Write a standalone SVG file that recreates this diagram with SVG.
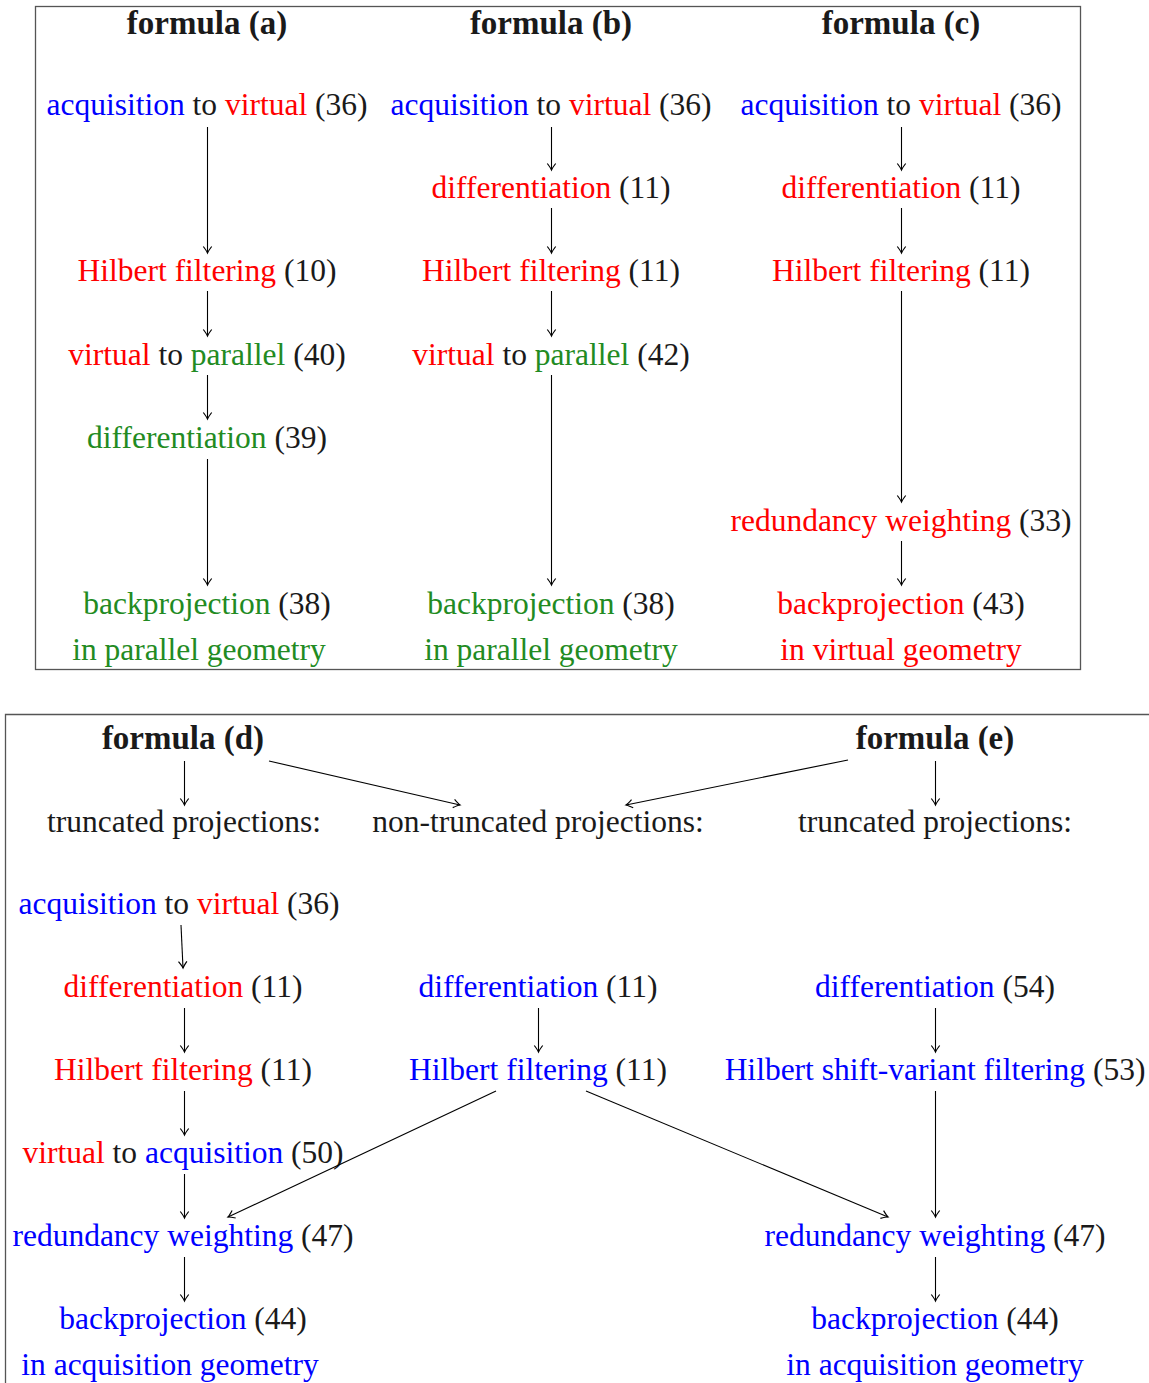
<svg xmlns="http://www.w3.org/2000/svg" width="1149" height="1383" viewBox="0 0 1149 1383">
<style>
text{font-family:"Liberation Serif","Times New Roman",serif;font-size:31.5px;fill:#1a1a1a;text-anchor:middle}
.t{font-weight:bold;font-size:33px}
.b{fill:#0000ff}
.r{fill:#ff0000}
.g{fill:#228b22}
.frame{fill:none;stroke:#555;stroke-width:1.3}
.c line{stroke:#000;stroke-width:1.1;marker-end:url(#ah)}
</style>
<defs>
<marker id="ah" markerUnits="userSpaceOnUse" markerWidth="14" markerHeight="14" viewBox="-7 -7 14 14" refX="0" refY="0" orient="auto">
<path d="M-6.5,-4.2 Q-2,-0.8 0,0 Q-2,0.8 -6.5,4.2" fill="none" stroke="#000" stroke-width="1.2"/>
</marker>
</defs>
<rect class="frame" x="35.5" y="6.5" width="1045" height="663"/>
<path class="frame" d="M5.5,1383 V714.5 H1149"/>

<g id="col-a">
<g id="a-title"><text class="t" x="207" y="34">formula (a)</text></g>
<g id="a1"><text x="207" y="115"><tspan class="b">acquisition</tspan> to <tspan class="r">virtual</tspan> (36)</text></g>
<g id="a2"><text x="207" y="281"><tspan class="r">Hilbert filtering</tspan> (10)</text></g>
<g id="a3"><text x="207" y="365"><tspan class="r">virtual</tspan> to <tspan class="g">parallel</tspan> (40)</text></g>
<g id="a4"><text x="207" y="448"><tspan class="g">differentiation</tspan> (39)</text></g>
<g id="a5"><text x="207" y="614"><tspan class="g">backprojection</tspan> (38)</text><text class="g" x="199" y="660">in parallel geometry</text></g>
</g>
<g id="col-b">
<g id="b-title"><text class="t" x="551" y="34">formula (b)</text></g>
<g id="b1"><text x="551" y="115"><tspan class="b">acquisition</tspan> to <tspan class="r">virtual</tspan> (36)</text></g>
<g id="b2"><text x="551" y="198"><tspan class="r">differentiation</tspan> (11)</text></g>
<g id="b3"><text x="551" y="281"><tspan class="r">Hilbert filtering</tspan> (11)</text></g>
<g id="b4"><text x="551" y="365"><tspan class="r">virtual</tspan> to <tspan class="g">parallel</tspan> (42)</text></g>
<g id="b5"><text x="551" y="614"><tspan class="g">backprojection</tspan> (38)</text><text class="g" x="551" y="660">in parallel geometry</text></g>
</g>
<g id="col-c">
<g id="c-title"><text class="t" x="901" y="34">formula (c)</text></g>
<g id="c1"><text x="901" y="115"><tspan class="b">acquisition</tspan> to <tspan class="r">virtual</tspan> (36)</text></g>
<g id="c2"><text x="901" y="198"><tspan class="r">differentiation</tspan> (11)</text></g>
<g id="c3"><text x="901" y="281"><tspan class="r">Hilbert filtering</tspan> (11)</text></g>
<g id="c4"><text x="901" y="531"><tspan class="r">redundancy weighting</tspan> (33)</text></g>
<g id="c5"><text x="901" y="614"><tspan class="r">backprojection</tspan> (43)</text><text class="r" x="901" y="660">in virtual geometry</text></g>
</g>

<g id="d-title"><text class="t" x="183" y="749">formula (d)</text></g>
<g id="e-title"><text class="t" x="935" y="749">formula (e)</text></g>
<g id="d-trunc"><text x="184" y="832">truncated projections:</text></g>
<g id="nontrunc"><text x="538" y="832">non-truncated projections:</text></g>
<g id="e-trunc"><text x="935" y="832">truncated projections:</text></g>
<g id="d1"><text x="179" y="914"><tspan class="b">acquisition</tspan> to <tspan class="r">virtual</tspan> (36)</text></g>
<g id="d2"><text x="183" y="997"><tspan class="r">differentiation</tspan> (11)</text></g>
<g id="n2"><text x="538" y="997"><tspan class="b">differentiation</tspan> (11)</text></g>
<g id="e2"><text x="935" y="997"><tspan class="b">differentiation</tspan> (54)</text></g>
<g id="d3"><text x="183" y="1080"><tspan class="r">Hilbert filtering</tspan> (11)</text></g>
<g id="n3"><text x="538" y="1080"><tspan class="b">Hilbert filtering</tspan> (11)</text></g>
<g id="e3"><text x="935" y="1080"><tspan class="b">Hilbert shift-variant filtering</tspan> (53)</text></g>
<g id="d4"><text x="183" y="1163"><tspan class="r">virtual</tspan> to <tspan class="b">acquisition</tspan> (50)</text></g>
<g id="d5"><text x="183" y="1246"><tspan class="b">redundancy weighting</tspan> (47)</text></g>
<g id="e5"><text x="935" y="1246"><tspan class="b">redundancy weighting</tspan> (47)</text></g>
<g id="d6"><text x="183" y="1329"><tspan class="b">backprojection</tspan> (44)</text><text class="b" x="170" y="1375">in acquisition geometry</text></g>
<g id="e6"><text x="935" y="1329"><tspan class="b">backprojection</tspan> (44)</text><text class="b" x="935" y="1375">in acquisition geometry</text></g>

<g id="connectors" class="c">
<line x1="207.5" y1="127" x2="207.5" y2="253"/>
<line x1="207.5" y1="291" x2="207.5" y2="336"/>
<line x1="207.5" y1="375" x2="207.5" y2="419"/>
<line x1="207.5" y1="459" x2="207.5" y2="585"/>
<line x1="551.5" y1="127" x2="551.5" y2="170"/>
<line x1="551.5" y1="208" x2="551.5" y2="253"/>
<line x1="551.5" y1="291" x2="551.5" y2="336"/>
<line x1="551.5" y1="375" x2="551.5" y2="585"/>
<line x1="901.5" y1="127" x2="901.5" y2="170"/>
<line x1="901.5" y1="208" x2="901.5" y2="253"/>
<line x1="901.5" y1="291" x2="901.5" y2="502"/>
<line x1="901.5" y1="541" x2="901.5" y2="585"/>
<line x1="184.5" y1="761" x2="184.5" y2="805"/>
<line x1="269" y1="761" x2="460" y2="805"/>
<line x1="848" y1="760" x2="626" y2="805"/>
<line x1="935.5" y1="761" x2="935.5" y2="805"/>
<line x1="181" y1="925" x2="183" y2="968"/>
<line x1="184.5" y1="1008" x2="184.5" y2="1052"/>
<line x1="538.5" y1="1008" x2="538.5" y2="1052"/>
<line x1="935.5" y1="1008" x2="935.5" y2="1052"/>
<line x1="184.5" y1="1091" x2="184.5" y2="1135"/>
<line x1="496" y1="1091" x2="228" y2="1217"/>
<line x1="586" y1="1091" x2="888" y2="1217"/>
<line x1="935.5" y1="1091" x2="935.5" y2="1217"/>
<line x1="184.5" y1="1174" x2="184.5" y2="1218"/>
<line x1="184.5" y1="1257" x2="184.5" y2="1301"/>
<line x1="935.5" y1="1257" x2="935.5" y2="1301"/>
</g>
</svg>
